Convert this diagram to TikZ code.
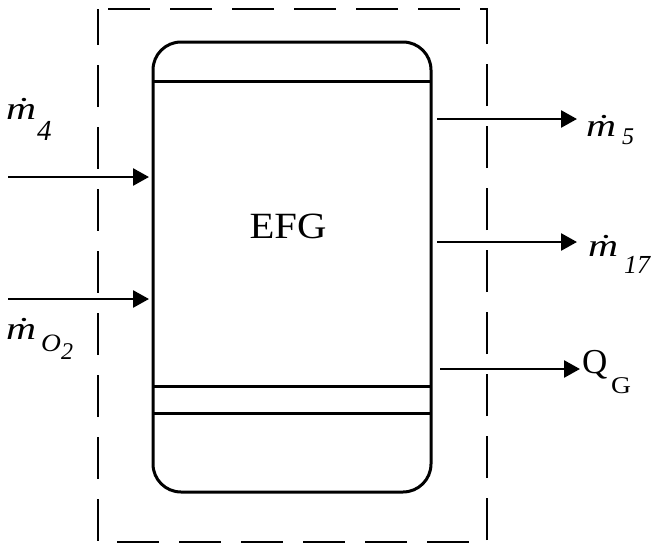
\documentclass[tikz,border=0pt]{standalone}
\usepackage{fontspec}
\usepackage{graphicx}
\setmainfont{Liberation Serif}
\usetikzlibrary{arrows.meta}
\newcommand{\mdotwide}{\scalebox{1.3}[1]{\.{m}}}
\begin{document}
\begin{tikzpicture}[x=1pt,y=-1pt,
  flow/.style={line width=2.7pt,-{Triangle[length=16pt,width=17pt]}},
  vessel/.style={draw,line width=3pt,rounded corners=28pt},
  lbl/.style={anchor=base west,inner sep=0pt,font=\fontsize{32}{34}\selectfont\itshape},
  sub/.style={anchor=base west,inner sep=0pt,font=\fontsize{26}{28}\selectfont\itshape}]
\useasboundingbox (0,0) rectangle (654,544);
% control volume
\draw[line width=2.8pt,dash pattern=on 42pt off 20pt,dash phase=6pt] (98,9) rectangle (487,542);
% vessel
\draw[vessel] (153,42) rectangle (431,492);
\coordinate (vTL) at (153,81); \coordinate (vTR) at (431,81);
\coordinate (vB1L) at (153,386); \coordinate (vB1R) at (431,386);
\coordinate (vB2L) at (153,413); \coordinate (vB2R) at (431,413);
\draw[line width=3pt] (vTL) -- (vTR);
\draw[line width=3pt] (vB1L) -- (vB1R);
\draw[line width=3pt] (vB2L) -- (vB2R);
\node[anchor=base,inner sep=0pt,font=\fontsize{37}{39}\selectfont] (efg) at (288,238) {\scalebox{1.1}[1]{EFG}};
% inlet/outlet ends
\coordinate (i4s) at (8,177); \coordinate (i4e) at (149,177);
\coordinate (ios) at (8,299); \coordinate (ioe) at (149,299);
\coordinate (o5s) at (437,119); \coordinate (o5e) at (577,119);
\coordinate (o17s) at (437,242); \coordinate (o17e) at (577,242);
\coordinate (oqs) at (440,369); \coordinate (oqe) at (580,369);
\draw[flow] (i4s) -- (i4e);
\draw[flow] (ios) -- (ioe);
\draw[flow] (o5s) -- (o5e);
\draw[flow] (o17s) -- (o17e);
\draw[flow] (oqs) -- (oqe);
% labels
\node[lbl] (m4) at (6,119) {\mdotwide};
\node[sub,font=\fontsize{29}{31}\selectfont\itshape] (m4s) at (37,140) {4};
\node[lbl] (mo) at (6,339) {\mdotwide};
\node[sub,font=\fontsize{25}{27}\selectfont\itshape] (mos) at (41,351) {\scalebox{1.1}[1]{O}};
\node[sub,font=\fontsize{24}{26}\selectfont\itshape] (mos2) at (61,359) {2};
\node[lbl] (m5) at (586,136) {\mdotwide};
\node[sub,font=\fontsize{24}{26}\selectfont\itshape] (m5s) at (622,144) {5};
\node[lbl] (m17) at (588,256) {\mdotwide};
\node[sub,font=\fontsize{26}{28}\selectfont\itshape] (m17s) at (624,273) {17};
\node[anchor=base west,inner sep=0pt,font=\fontsize{35}{37}\selectfont] (q) at (582,373) {Q};
\node[anchor=base west,inner sep=0pt,font=\fontsize{24}{26}\selectfont] (qg) at (611,393) {\scalebox{1.15}[1]{G}};
\end{tikzpicture}
\end{document}
